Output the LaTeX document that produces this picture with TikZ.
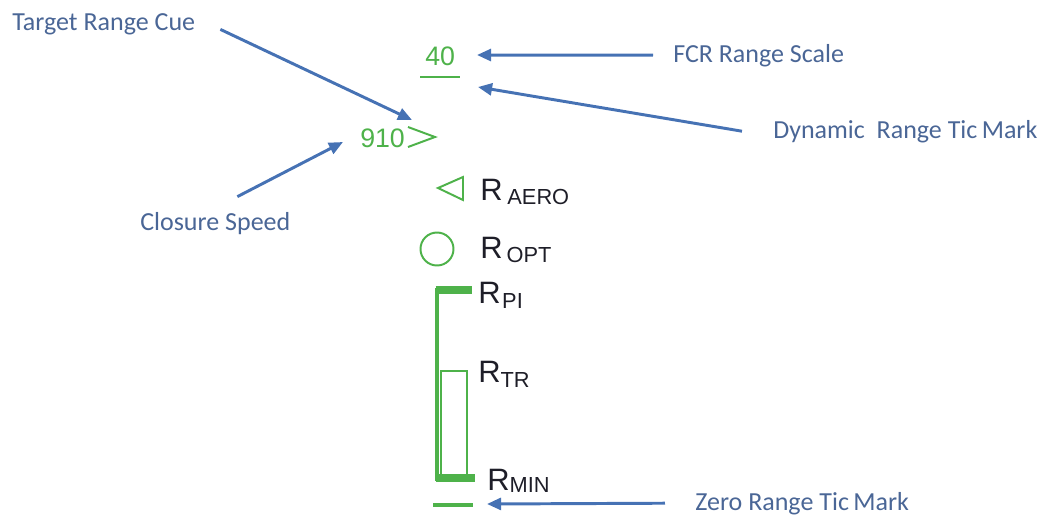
\documentclass[tikz,border=0pt]{standalone}
\usepackage{fontspec}
\setmainfont{Liberation Sans}
\newfontfamily\calibrifont{Carlito}
\usetikzlibrary{arrows.meta}

\definecolor{hudgreen}{RGB}{78,178,74}
\definecolor{calloutblue}{RGB}{70,114,180}
\definecolor{labelblue}{RGB}{74,102,150}
\definecolor{rblack}{RGB}{30,30,40}

\newcommand{\Rsub}[3]{R\kern#2\raisebox{-#3}{\fontsize{15.5}{15.5}\selectfont #1}}

\tikzset{
  callout/.style={draw=calloutblue, line width=2.1pt, -{Triangle[length=10pt,width=8.5pt]}},
  calloutlabel/.style={text=labelblue, font=\calibrifont\fontsize{18.5}{20}\selectfont, inner sep=0pt, anchor=base west},
  hudtext/.style={text=hudgreen, font=\fontsize{19}{21}\selectfont, inner sep=0pt, anchor=base west},
  rlabel/.style={text=rblack, font=\fontsize{22}{24}\selectfont, inner sep=0pt, anchor=base west},
  hudline/.style={draw=hudgreen, line width=1.4pt},
}

\begin{document}
\begin{tikzpicture}[x=0.025cm, y=-0.025cm]
  \useasboundingbox (0,0) rectangle (1047,516);

  % range scale and closure
  \node[hudtext] (scale) at (425,65) {40};
  \draw[hudline] (420,77) -- (460,77);
  \node[hudtext] (speed) at (360,147) {910};
  \draw[hudline] (408,127) -- (435,137) -- (408,147);

  % range symbols
  \draw[hudline, line join=miter] (438,188) -- (463,177) -- (463,200) -- cycle;
  \node[rlabel] (aero) at (480,200) {\Rsub{AERO}{0.12cm}{0.1cm}};
  \draw[hudline] (437,249) circle (16.5);
  \node[rlabel] (opt) at (480,258) {\Rsub{OPT}{0.1cm}{0.1cm}};

  % range bracket
  \draw[draw=hudgreen, line width=2.2pt] (437,288) -- (437,481);
  \draw[draw=hudgreen, line width=5pt] (435.5,290) -- (472,290);
  \draw[draw=hudgreen, line width=5pt] (435.5,478) -- (475,478);
  \draw[draw=hudgreen, line width=1.1pt] (441,478) -- (441,371) -- (467,371) -- (467,478);
  \draw[draw=hudgreen, line width=2.4pt] (433,505) -- (473,505);
  \node[rlabel] (pi) at (478,303) {\Rsub{PI}{0.04cm}{0.13cm}};
  \node[rlabel] (tr) at (478,382) {\Rsub{TR}{0cm}{0.13cm}};
  \node[rlabel] (rmin) at (487,490) {\Rsub{MIN}{0cm}{0.05cm}};

  % callouts
  \node[calloutlabel] (cue) at (12,30) {Target Range Cue};
  \node[calloutlabel] (closure) at (140,230) {Closure Speed};
  \node[calloutlabel] (fcr) at (673,62) {FCR Range Scale};
  \node[calloutlabel] (dynamic) at (773,138) {Dynamic\ \ Range Tic\,Mark};
  \node[calloutlabel] (zero) at (695,510) {Zero Range Tic\,Mark};

  \coordinate (cuetip) at (412,120);
  \coordinate (speedtip) at (343,142);
  \coordinate (scaletip) at (477,55);
  \coordinate (dyntip) at (478,87);
  \coordinate (zerotip) at (487,504);

  \draw[callout] ([shift={(0.625cm,-0.14cm)}]cue.east) -- (cuetip);
  \draw[callout] ([shift={(0.55cm,0.375cm)}]closure.north) -- (speedtip);
  \draw[callout] ([xshift=-0.5cm]fcr.west) -- (scaletip);
  \draw[callout] ([xshift=-0.775cm]dynamic.west) -- (dyntip);
  \draw[callout] ([xshift=-0.75cm]zero.west) -- (zerotip);
\end{tikzpicture}
\end{document}
